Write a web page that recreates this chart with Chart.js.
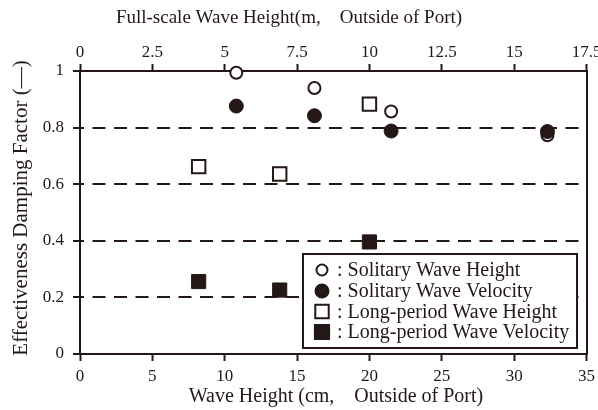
<!DOCTYPE html>
<html>
<head>
<meta charset="utf-8">
<script src="https://cdn.jsdelivr.net/npm/chart.js@4"></script>
<style>
  html, body { margin: 0; padding: 0; background: #fff; }
  #wrap { width: 598px; height: 410px; }
</style>
</head>
<body>
<div id="wrap"><canvas id="dampingChart" width="598" height="410"></canvas></div>
<script>
// Wave heights (cm, model scale) and damping factors per series
const solitaryHeightX = [10.8, 16.2, 21.5, 32.3];
const solitaryHeightY = [0.994, 0.940, 0.857, 0.773];
const solitaryVelocityX = [10.8, 16.2, 21.5, 32.3];
const solitaryVelocityY = [0.876, 0.842, 0.788, 0.786];
const longHeightX = [8.2, 13.8, 20.0];
const longHeightY = [0.662, 0.636, 0.883];
const longVelocityX = [8.2, 13.8, 20.0];
const longVelocityY = [0.256, 0.226, 0.396];

const seriesLabels = [
    'Solitary Wave Height',
    'Solitary Wave Velocity',
    'Long-period Wave Height',
    'Long-period Wave Velocity'
];

// Tick values
const bottomTicks = [0, 5, 10, 15, 20, 25, 30, 35];
const topTicks = [0, 2.5, 5, 7.5, 10, 12.5, 15, 17.5];
const yTicks = [0, 0.2, 0.4, 0.6, 0.8, 1];

const bottomTitle = 'Wave Height (cm,\u3000Outside of Port)';
const topTitle = 'Full-scale Wave Height(m,\u3000Outside of Port)';
const leftTitle = 'Effectiveness Damping Factor (\u2014)';

const INK = '#231815';
const FONT = '"Liberation Serif", "Times New Roman", serif';

function toPoints(xs, ys) {
    return xs.map((x, i) => ({ x: x, y: ys[i] }));
}

function fixedTicks(values) {
    return scale => { scale.ticks = values.map(v => ({ value: v })); };
}

// pin scale sizes so the plot area stays where it should
function fixSize(prop, size) {
    return scale => {
        scale[prop] = size;
        scale.paddingLeft = scale.paddingRight = 0;
        scale.paddingTop = scale.paddingBottom = 0;
    };
}

const markers = [
    { pointStyle: 'circle', radius: 6, fill: '#fff', borderWidth: 2 },
    { pointStyle: 'circle', radius: 7, fill: INK, borderWidth: 1 },
    { pointStyle: 'rect', radius: 9.5, fill: '#fff', borderWidth: 2 },
    { pointStyle: 'rect', radius: 10, fill: INK, borderWidth: 1 }
];

const legendMarkers = [
    { pointStyle: 'circle', radius: 5.5, fill: '#fff', borderWidth: 2 },
    { pointStyle: 'circle', radius: 6.5, fill: INK, borderWidth: 1 },
    { pointStyle: 'rect', radius: 9.5, fill: '#fff', borderWidth: 2 },
    { pointStyle: 'rect', radius: 10, fill: INK, borderWidth: 1 }
];

function makeDataset(i, xs, ys, order) {
    const m = markers[i];
    return {
        label: seriesLabels[i],
        data: toPoints(xs, ys),
        pointStyle: m.pointStyle,
        pointRadius: m.radius,
        pointHoverRadius: m.radius,
        pointBackgroundColor: m.fill,
        pointBorderColor: INK,
        pointBorderWidth: m.borderWidth,
        showLine: false,
        clip: false,
        order: order
    };
}

// boxed legend inside the plot, "marker : label"
const boxLegend = {
    id: 'boxLegend',
    afterDatasetsDraw(chart) {
        const ctx = chart.ctx;
        const box = { left: 303, top: 254, right: 577, bottom: 348 };
        ctx.save();
        ctx.fillStyle = '#fff';
        ctx.fillRect(box.left, box.top, box.right - box.left, box.bottom - box.top);
        ctx.lineWidth = 2;
        ctx.strokeStyle = INK;
        ctx.strokeRect(box.left, box.top, box.right - box.left, box.bottom - box.top);

        const rowY = [270, 291, 311.5, 332];
        ctx.font = '20px ' + FONT;
        ctx.textBaseline = 'middle';
        ctx.textAlign = 'left';
        seriesLabels.forEach((label, i) => {
            const m = legendMarkers[i];
            ctx.fillStyle = m.fill;
            ctx.strokeStyle = INK;
            Chart.helpers.drawPoint(ctx, {
                pointStyle: m.pointStyle,
                radius: m.radius,
                borderWidth: m.borderWidth,
                rotation: 0
            }, 322, rowY[i]);
            ctx.fillStyle = INK;
            ctx.fillText(': ' + label, 337, rowY[i] + 1);
        });
        ctx.restore();
    }
};

// axis titles
const axisTitles = {
    id: 'axisTitles',
    afterDraw(chart) {
        const ctx = chart.ctx;
        ctx.save();
        ctx.fillStyle = INK;
        ctx.textAlign = 'center';
        ctx.textBaseline = 'middle';
        ctx.font = '19px ' + FONT;
        ctx.fillText(topTitle, 289, 18);
        ctx.font = '20px ' + FONT;
        ctx.fillText(bottomTitle, 336, 397);
        ctx.font = '21px ' + FONT;
        ctx.translate(21, 208);
        ctx.rotate(-Math.PI / 2);
        ctx.fillText(leftTitle, 0, 0);
        ctx.restore();
    }
};

const tickFont = { family: FONT, size: 17 };

new Chart(document.getElementById('dampingChart'), {
    type: 'scatter',
    data: {
        datasets: [
            makeDataset(0, solitaryHeightX, solitaryHeightY, 2),
            makeDataset(1, solitaryVelocityX, solitaryVelocityY, 1),
            makeDataset(2, longHeightX, longHeightY, 4),
            makeDataset(3, longVelocityX, longVelocityY, 3)
        ]
    },
    options: {
        responsive: false,
        animation: false,
        layout: { padding: 0 },
        plugins: {
            legend: { display: false },
            tooltip: { enabled: false }
        },
        scales: {
            x: {
                type: 'linear',
                position: 'bottom',
                min: 0,
                max: 35,
                afterBuildTicks: fixedTicks(bottomTicks),
                afterFit: fixSize('height', 56),
                ticks: { color: INK, font: tickFont, padding: 5, maxRotation: 0 },
                grid: { drawOnChartArea: false, tickLength: 7, tickWidth: 2, tickColor: INK },
                border: { color: INK, width: 2 }
            },
            x2: {
                type: 'linear',
                position: 'top',
                min: 0,
                max: 17.5,
                afterBuildTicks: fixedTicks(topTicks),
                afterFit: fixSize('height', 71),
                ticks: { color: INK, font: tickFont, padding: 1, maxRotation: 0 },
                grid: { drawOnChartArea: false, tickLength: 7, tickWidth: 2, tickColor: INK },
                border: { color: INK, width: 2 }
            },
            y: {
                type: 'linear',
                position: 'left',
                min: 0,
                max: 1,
                afterBuildTicks: fixedTicks(yTicks),
                afterFit: fixSize('width', 80),
                ticks: {
                    color: INK,
                    font: tickFont,
                    padding: 9,
                    callback: v => String(Math.round(v * 10) / 10)
                },
                grid: {
                    color: c => (c.tick && c.tick.value > 0 && c.tick.value < 1) ? INK : 'rgba(0,0,0,0)',
                    lineWidth: 2,
                    tickLength: 7,
                    tickWidth: 2,
                    tickColor: INK
                },
                border: { color: INK, width: 2, dash: [13, 8.5], dashOffset: 10 }
            },
            y2: {
                type: 'linear',
                position: 'right',
                min: 0,
                max: 1,
                afterFit: fixSize('width', 11),
                ticks: { display: false },
                grid: { display: false },
                border: { color: INK, width: 2 }
            }
        }
    },
    plugins: [boxLegend, axisTitles]
});
</script>
</body>
</html>
